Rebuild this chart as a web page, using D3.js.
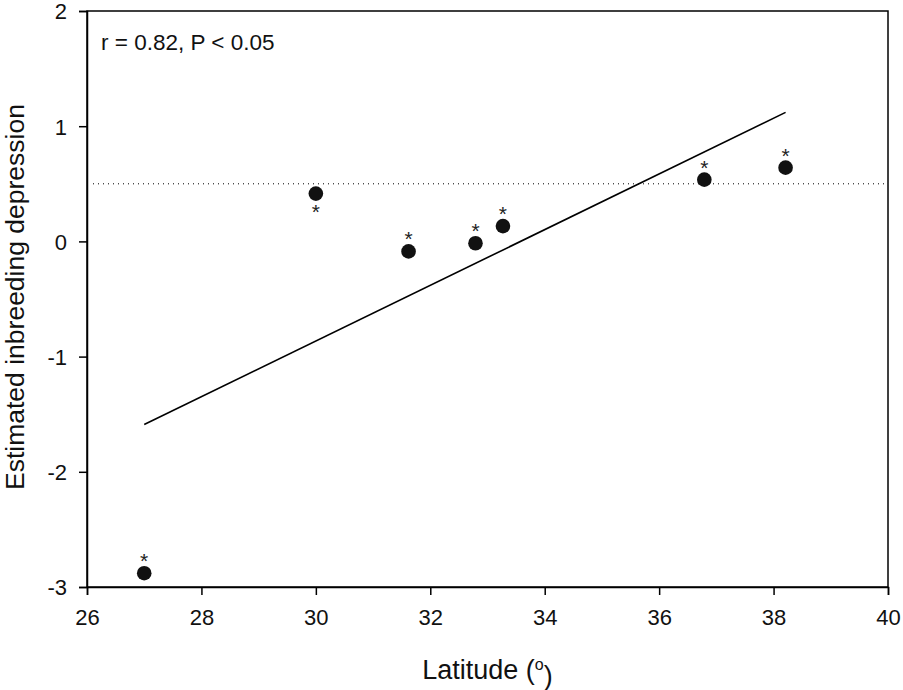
<!DOCTYPE html>
<html>
<head>
<meta charset="utf-8">
<script src="https://cdn.jsdelivr.net/npm/d3@7"></script>
<style>
	body { margin: 0; background: #fff; }
	svg { font-family: "Liberation Sans", Arial, sans-serif; }
</style>
</head>
<body>
<div id="chart"></div>
<script>
// data
var latitude = [27.0, 30.0, 31.62, 32.79, 33.27, 36.79, 38.21];
var depression = [-2.88, 0.415, -0.087, -0.016, 0.133, 0.536, 0.64];
var starBelow = [false, true, false, false, false, false, false];
var fitLine = [{ x: 27.0, y: -1.59 }, { x: 38.21, y: 1.12 }];
var refLevel = 0.5;
var xTicks = [26, 28, 30, 32, 34, 36, 38, 40];
var yTicks = [-3, -2, -1, 0, 1, 2];

drawChart()

function drawChart() {
	var W = 903, H = 690;
	var margin = { top: 11, right: 15, bottom: 103, left: 87 };

	var svg = d3.select("#chart")
		.append("svg")
		.attr("width", W)
		.attr("height", H);

	var x = d3.scaleLinear().domain([26, 40]).range([margin.left, W - margin.right]);
	var y = d3.scaleLinear().domain([-3, 2]).range([H - margin.bottom, margin.top]);

	// frame
	svg.append("rect")
		.attr("x", x(26))
		.attr("y", y(2))
		.attr("width", x(40) - x(26))
		.attr("height", y(-3) - y(2))
		.attr("fill", "none")
		.attr("stroke", "#000")
		.attr("stroke-width", 1.5);

	// axes (plain hyphen for negatives, like the original)
	var fmt = d => String(d);
	var xAxis = svg.append("g")
		.attr("transform", `translate(0,${y(-3)})`)
		.call(d3.axisBottom(x).tickValues(xTicks).tickSize(8).tickPadding(14).tickFormat(fmt));
	var yAxis = svg.append("g")
		.attr("transform", `translate(${x(26)},0)`)
		.call(d3.axisLeft(y).tickValues(yTicks).tickSize(8).tickPadding(12).tickFormat(fmt));

	[xAxis, yAxis].forEach(function(g) {
		g.select(".domain").attr("stroke-width", 1.5);
		g.selectAll(".tick line").attr("stroke-width", 1.5);
		g.selectAll(".tick text")
			.style("font-size", "22px")
			.style("font-family", "Liberation Sans, Arial, sans-serif")
			.attr("fill", "#111");
	});
	yAxis.selectAll(".tick text").attr("dy", "0.36em");

	// dotted reference line
	svg.append("line")
		.attr("x1", x(26) + 6)
		.attr("x2", x(40))
		.attr("y1", y(refLevel))
		.attr("y2", y(refLevel))
		.attr("stroke", "#000")
		.attr("stroke-width", 1)
		.attr("stroke-dasharray", "1,4");

	// regression line
	svg.append("path")
		.datum(fitLine)
		.attr("d", d3.line().x(d => x(d.x)).y(d => y(d.y)))
		.attr("fill", "none")
		.attr("stroke", "#000")
		.attr("stroke-width", 1.6);

	var pts = latitude.map(function(v, i) {
		return { x: v, y: depression[i], below: starBelow[i] };
	});

	svg.selectAll(".pt")
		.data(pts)
		.join("circle")
		.attr("class", "pt")
		.attr("cx", d => x(d.x))
		.attr("cy", d => y(d.y))
		.attr("r", 7.3)
		.attr("fill", "#111");

	svg.selectAll(".star")
		.data(pts)
		.join("text")
		.attr("class", "star")
		.attr("x", d => x(d.x))
		.attr("y", d => y(d.y) + (d.below ? 25 : -5))
		.attr("text-anchor", "middle")
		.style("font-size", "21px")
		.attr("fill", "#222")
		.text("*");

	// annotation
	svg.append("text")
		.attr("x", 101)
		.attr("y", 50)
		.style("font-size", "22.5px")
		.attr("fill", "#111")
		.text("r = 0.82, P < 0.05");

	// axis titles
	var xt = svg.append("text")
		.attr("x", (x(26) + x(40)) / 2)
		.attr("y", 679)
		.attr("text-anchor", "middle")
		.style("font-size", "27px")
		.attr("fill", "#111");
	xt.append("tspan").text("Latitude (");
	xt.append("tspan").attr("dy", "-0.55em").style("font-size", "16px").text("o");
	xt.append("tspan").attr("dy", "0.55em").text(")");

	svg.append("text")
		.attr("transform", `translate(24,297) rotate(-90)`)
		.attr("text-anchor", "middle")
		.style("font-size", "26.5px")
		.attr("fill", "#111")
		.text("Estimated inbreeding depression");
}
</script>
</body>
</html>
